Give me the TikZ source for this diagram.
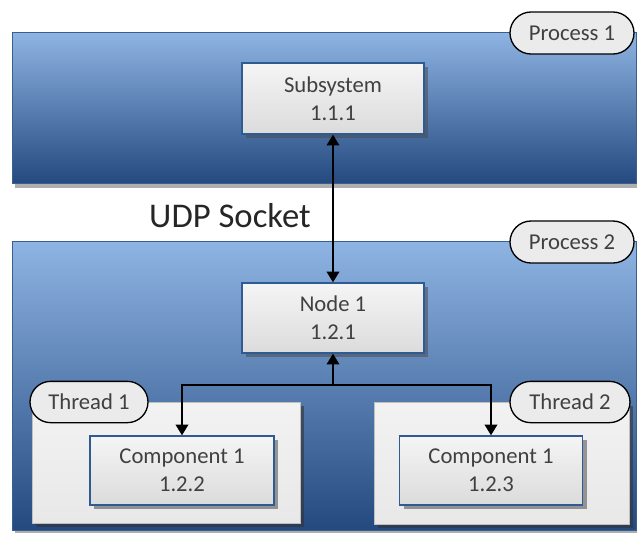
\documentclass[tikz,border=0pt]{standalone}
\usepackage{fontspec}
\setmainfont{Carlito}
\usetikzlibrary{arrows.meta,shadows,shapes.misc}
\definecolor{bandtop}{HTML}{8EB4E3}
\definecolor{bandbot}{HTML}{24497F}
\definecolor{bandline}{HTML}{3A5F8E}
\definecolor{boxline}{HTML}{2F5B94}
\definecolor{txt}{HTML}{404040}
\tikzset{
  band/.style={draw=bandline, line width=1pt, top color=bandtop, bottom color=bandbot,
    anchor=north west, inner sep=0pt,
    drop shadow={shadow xshift=2pt, shadow yshift=-3pt, opacity=0.45, fill=black!70}},
  blockbox/.style={draw=boxline, line width=1.1pt, top color=white!96!black, bottom color=white!86!black,
    inner sep=0pt, align=center, text=txt, font=\fontsize{17}{21}\selectfont,
    drop shadow={shadow xshift=3pt, shadow yshift=-3pt, opacity=0.55, fill=black!70}},
  threadbox/.style={draw=black!25, line width=0.6pt, top color=white!95!black, bottom color=white!91!black,
    inner sep=0pt,
    drop shadow={shadow xshift=3pt, shadow yshift=-3pt, opacity=0.6, fill=black!80}},
  pill/.style={draw=black, line width=1pt, fill=white!92!black, rounded rectangle,
    inner sep=0pt, text=txt, font=\fontsize{17}{21}\selectfont},
  arr/.style={line width=1.1pt, -{Triangle[width=9.5pt,length=8pt]}},
  darr/.style={line width=1.1pt, {Triangle[width=9.5pt,length=8pt]}-{Triangle[width=9.5pt,length=8pt]}}
}
\begin{document}
\begin{tikzpicture}[x=0.75pt,y=-0.75pt]
\useasboundingbox (0,0) rectangle (637,533);
% process bands
\node[band, minimum width=468pt, minimum height=113.25pt] (p1) at (12,32) {};
\node[band, minimum width=468pt, minimum height=216.75pt] (p2) at (12,241) {};
% boxes
\node[blockbox, minimum width=136.5pt, minimum height=53.25pt] (sub) at (333,98.5) {Subsystem\\1.1.1};
\node[blockbox, minimum width=136.5pt, minimum height=52.5pt] (n1) at (333,318) {Node 1\\1.2.1};
% thread boxes
\node[threadbox, minimum width=201pt, minimum height=90.75pt] (t1) at (166,462.5) {};
\node[threadbox, minimum width=191.25pt, minimum height=91.5pt] (t2) at (501.5,463) {};
\node[blockbox, minimum width=138pt, minimum height=51.75pt] (c1) at (182,470.5) {Component 1\\1.2.2};
\node[blockbox, minimum width=137.25pt, minimum height=51.75pt] (c2) at (491,470.5) {Component 1\\1.2.3};
% labels
\node[pill, minimum width=93pt, minimum height=31.5pt] (l1) at (572,33) {Process 1};
\node[pill, minimum width=93pt, minimum height=31.5pt] (l2) at (572,242) {Process 2};
\node[pill, minimum width=88.5pt, minimum height=31pt] (l3) at (89,402) {Thread 1};
\node[pill, minimum width=90pt, minimum height=31pt] (l4) at (570,402) {Thread 2};
\node[text=black!85, font=\fontsize{26}{30}\selectfont, inner sep=0pt] (udp) at (230,216) {UDP Socket};
% connectors
\coordinate (jn) at (333,385);
\draw[darr] (sub.south) -- (n1.north);
\draw[arr] (jn) -- (n1.south);
\draw[arr] (jn) -| (c1.north);
\draw[arr] (jn) -| (c2.north);
\end{tikzpicture}
\end{document}
